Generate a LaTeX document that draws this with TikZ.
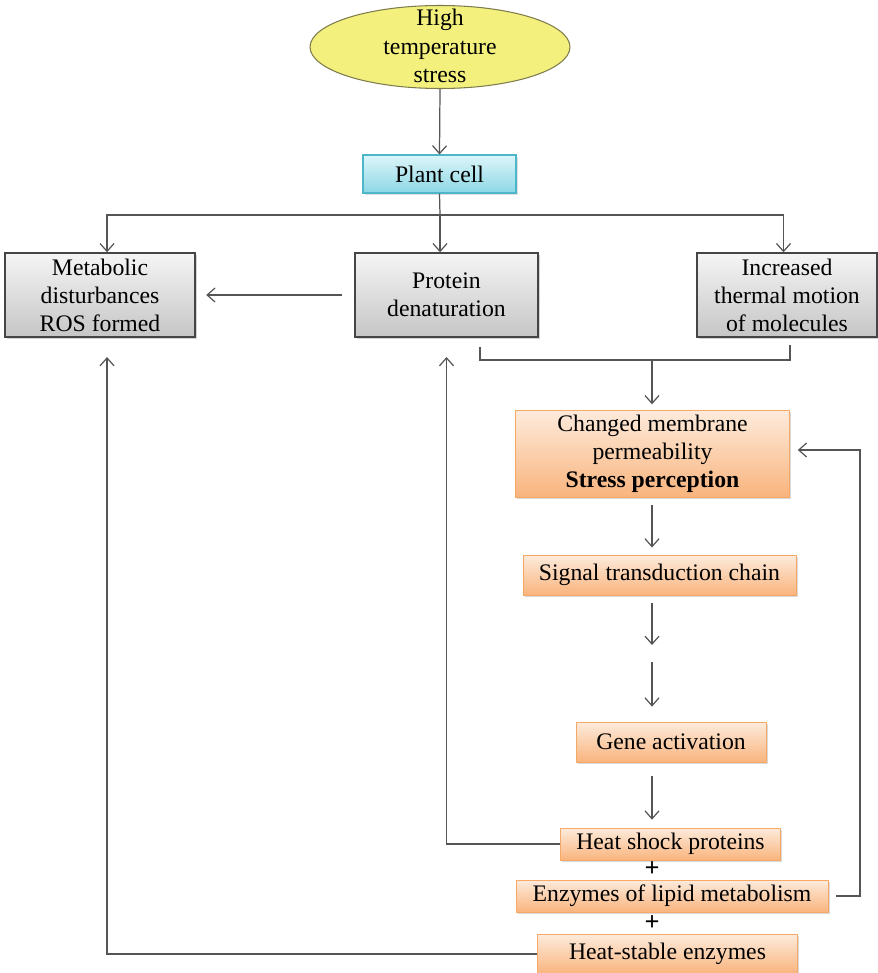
\documentclass[tikz,border=0pt]{standalone}
\usepackage{fontspec}
\setmainfont{Liberation Serif}
\usepackage{tikz}
\usetikzlibrary{positioning, arrows.meta, shapes.geometric, shadows, calc}

\definecolor{lineGray}{HTML}{555555}
\definecolor{boxEdge}{HTML}{454545}
\definecolor{cyanTop}{HTML}{DDF6FA}
\definecolor{cyanBot}{HTML}{8CD7E5}
\definecolor{cyanEdge}{HTML}{4DB6CA}
\definecolor{orangeTop}{HTML}{FDEBDC}
\definecolor{orangeBot}{HTML}{F9B47D}
\definecolor{orangeEdge}{HTML}{F6A866}
\definecolor{yellowFill}{HTML}{F3F07E}
\definecolor{yellowEdge}{HTML}{7E7C4C}

\begin{document}
\begin{tikzpicture}[x=0.02cm, y=-0.02cm,
	font=\fontsize{13.5}{16}\selectfont]
	% styles for boxes and connectors
	\tikzset{
		arr/.style={
			draw=lineGray, line width=0.7pt,
			-{Straight Barb[length=4.5pt, width=8pt, line width=0.7pt]}
		},
		wire/.style={draw=lineGray, line width=0.7pt},
		grayBox/.style={
			rectangle, draw=boxEdge, line width=0.8pt,
			top color=gray!8, bottom color=gray!45,
			align=center, inner sep=1pt,
			drop shadow={shadow xshift=1pt, shadow yshift=-1pt, opacity=0.35}
		},
		cyanBox/.style={
			rectangle, draw=cyanEdge, line width=0.6pt,
			top color=cyanTop, bottom color=cyanBot,
			align=center, inner sep=1pt,
			drop shadow={shadow xshift=1pt, shadow yshift=-1pt, opacity=0.25}
		},
		orangeBox/.style={
			rectangle, draw=orangeEdge, line width=0.5pt,
			top color=orangeTop, bottom color=orangeBot,
			align=center, inner sep=1pt,
			drop shadow={shadow xshift=1pt, shadow yshift=-1pt, opacity=0.3}
		}
	}
	\useasboundingbox (0,0) rectangle (877,973);
	
	% stress ellipse and plant cell
	\node[ellipse, draw=yellowEdge, fill=yellowFill, line width=0.6pt,
		minimum width=5.2cm, minimum height=1.66cm, inner sep=0pt] (heat) at (440,47) {};
	\node[align=center, inner sep=0pt] (heattext) at (440,46) {High\\temperature\\stress};
	\node[cyanBox, minimum width=3.06cm, minimum height=0.76cm] (plant) at (439.5,174) {Plant cell};
	
	% first row of effects
	\node[grayBox, minimum width=3.8cm, minimum height=1.68cm] (metab) at (100,295)
		{Metabolic\\disturbances\\ROS formed};
	\node[grayBox, minimum width=3.66cm, minimum height=1.68cm] (protein) at (446.5,295)
		{Protein\\denaturation};
	\node[grayBox, minimum width=3.6cm, minimum height=1.68cm] (motion) at (787,295)
		{Increased\\thermal motion\\of molecules};
	
	% perception and signalling chain
	\node[orangeBox, minimum width=5.48cm, minimum height=1.74cm] (membrane) at (652.5,453.5)
		{Changed membrane\\permeability\\\textbf{Stress perception}};
	\node[orangeBox, minimum width=5.46cm, minimum height=0.8cm] (signal) at (659.5,575)
		{Signal transduction chain};
	\node[orangeBox, minimum width=3.8cm, minimum height=0.8cm] (gene) at (671,742)
		{Gene activation};
	\node[orangeBox, minimum width=4.4cm, minimum height=0.64cm] (hsp) at (670.5,844)
		{Heat shock proteins};
	\node[font=\fontsize{15}{16}\selectfont\bfseries] (plusA) at (652,869) {+};
	\node[orangeBox, minimum width=6.24cm, minimum height=0.64cm] (lipid) at (672,896)
		{Enzymes of lipid metabolism};
	\node[font=\fontsize{15}{16}\selectfont\bfseries] (plusB) at (652,923) {+};
	\node[orangeBox, minimum width=5.2cm, minimum height=0.8cm] (stable) at (667.5,954)
		{Heat-stable enzymes};
	
	% junction points
	\coordinate (split) at (440,215);
	\coordinate (brL) at (480,347);
	\coordinate (brR) at (790,345);
	\coordinate (brM) at (652,360);
	\coordinate (gapA) at (652,645);
	\coordinate (gapB) at (652,662);
	\coordinate (backR) at (860,450);
	
	% top part
	\draw[arr] (heat.south) -- (plant.north);
	\draw[wire] (plant.south) -- (split);
	\draw[arr] (split) -| ([xshift=4pt]metab.north);
	\draw[arr] (split) -| ([xshift=-2pt]motion.north);
	\draw[arr] (split) -- (split |- protein.north);
	\draw[arr, shorten <=7pt, shorten >=6pt] (protein.west) -- (metab.east);
	
	% bracket into membrane box
	\draw[wire] (brL) |- (brM) -| (brR);
	\draw[arr, shorten >=3pt] (brM) -- (brM |- membrane.north);
	
	% main chain
	\draw[arr, shorten <=4.5pt, shorten >=4pt] (brM |- membrane.south) -- (brM |- signal.north);
	\draw[arr, shorten <=4.5pt] (brM |- signal.south) -- (gapA);
	\draw[arr, shorten >=8.5pt] (gapB) -- (brM |- gene.north);
	\draw[arr, shorten <=8pt, shorten >=4.5pt] (brM |- gene.south) -- (brM |- hsp.north);
	
	% feedback loops
	\draw[arr, shorten >=11pt] (hsp.west) -| (protein.south);
	\draw[arr, shorten <=4.5pt, shorten >=4.5pt] (lipid.east) -| (backR) -- (backR -| membrane.east);
	\draw[arr, shorten >=11pt] (stable.west) -| ([xshift=4pt]metab.south);
\end{tikzpicture}
\end{document}
